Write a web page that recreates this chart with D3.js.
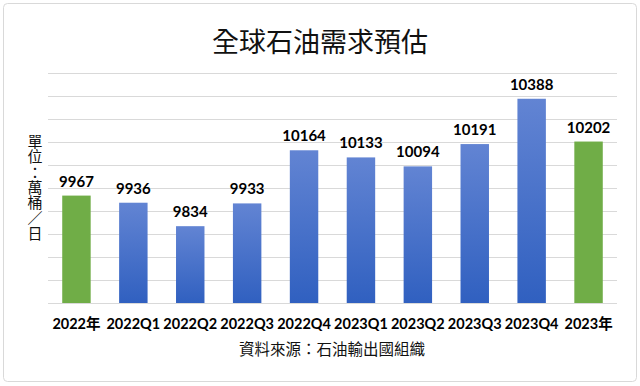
<!DOCTYPE html>
<html><head><meta charset="utf-8">
<script src="https://cdn.jsdelivr.net/npm/d3@7"></script>
<style>body{margin:0;background:#fff;}svg{display:block;}</style>
</head><body>
<svg id="c" width="640" height="386"></svg>
<script>
const categories = ["2022年","2022Q1","2022Q2","2022Q3","2022Q4","2023Q1","2023Q2","2023Q3","2023Q4","2023年"];
const values = [9967,9936,9834,9933,10164,10133,10094,10191,10388,10202];
const annual = [true,false,false,false,false,false,false,false,false,true];
const yTicks = [9500,9600,9700,9800,9900,10000,10100,10200,10300,10400,10500];
const title = "全球石油需求預估";
const yLabel = "單位：萬桶／日";
const source = "資料來源：石油輸出國組織";

const svg = d3.select("#c");
const m = {left:48, right:617, top:73, bottom:303};
const x = d3.scaleBand().domain(categories).range([m.left, m.right]).paddingInner(0.5).paddingOuter(0.25);
const y = d3.scaleLinear().domain([9500,10500]).range([m.bottom, m.top]);

svg.append("rect").attr("x",3.5).attr("y",3.5).attr("width",633).attr("height",378)
  .attr("rx",4).attr("fill","#fff").attr("stroke","#d9d9d9");

const defs = svg.append("defs");
const g = defs.append("linearGradient").attr("id","bg").attr("x1",0).attr("y1",0).attr("x2",0).attr("y2",1);
g.append("stop").attr("offset","0%").attr("stop-color","#6284d3");
g.append("stop").attr("offset","100%").attr("stop-color","#3060c0");

svg.append("text").attr("x",320).attr("y",52).attr("text-anchor","middle")
  .attr("font-family","'Noto Sans CJK TC'").attr("font-size",27).attr("fill","#111").text(title);

// gridlines
const yAxis = d3.axisLeft(y).tickValues(yTicks).tickSize(-(m.right-m.left)).tickFormat("");
const ga = svg.append("g").attr("transform",`translate(${m.left},0)`).call(yAxis);
ga.select(".domain").remove();
ga.selectAll(".tick line").attr("stroke","#d9d9d9").attr("stroke-width",1);

// bars
svg.selectAll(".bar").data(values).join("rect")
  .attr("x",(d,i)=>x(categories[i])).attr("width",x.bandwidth())
  .attr("y",d=>y(d)).attr("height",d=>y(9500)-y(d))
  .attr("fill",(d,i)=>annual[i]?"#70ad47":"url(#bg)");

// value labels
svg.selectAll(".vl").data(values).join("text")
  .attr("x",(d,i)=>x(categories[i])+x.bandwidth()/2).attr("y",d=>y(d)-9)
  .attr("text-anchor","middle").attr("font-family","Lato, 'Noto Sans'").attr("font-weight","bold")
  .attr("font-size",15).attr("fill","#000").text(d=>d);

// x axis labels
const xAxis = d3.axisBottom(x).tickSize(0).tickPadding(16);
const gx = svg.append("g").attr("transform",`translate(0,${m.bottom})`).call(xAxis);
gx.select(".domain").remove();
gx.selectAll("text").attr("font-family","Lato, 'Noto Sans CJK TC'").attr("font-weight","bold")
  .attr("font-size",14.5).attr("fill","#000");

// y label vertical (single text element)
svg.append("text").attr("x",35).attr("y",134)
  .attr("font-family","'Noto Sans CJK TC'").attr("font-size",15).attr("fill","#111")
  .style("writing-mode","vertical-rl").style("text-orientation","upright")
  .style("letter-spacing","0.3px")
  .text(yLabel);

svg.append("text").attr("x",332).attr("y",355).attr("text-anchor","middle")
  .attr("font-family","'Noto Sans CJK TC'").attr("font-size",15.5).attr("fill","#111").text(source);
</script>
</body></html>
